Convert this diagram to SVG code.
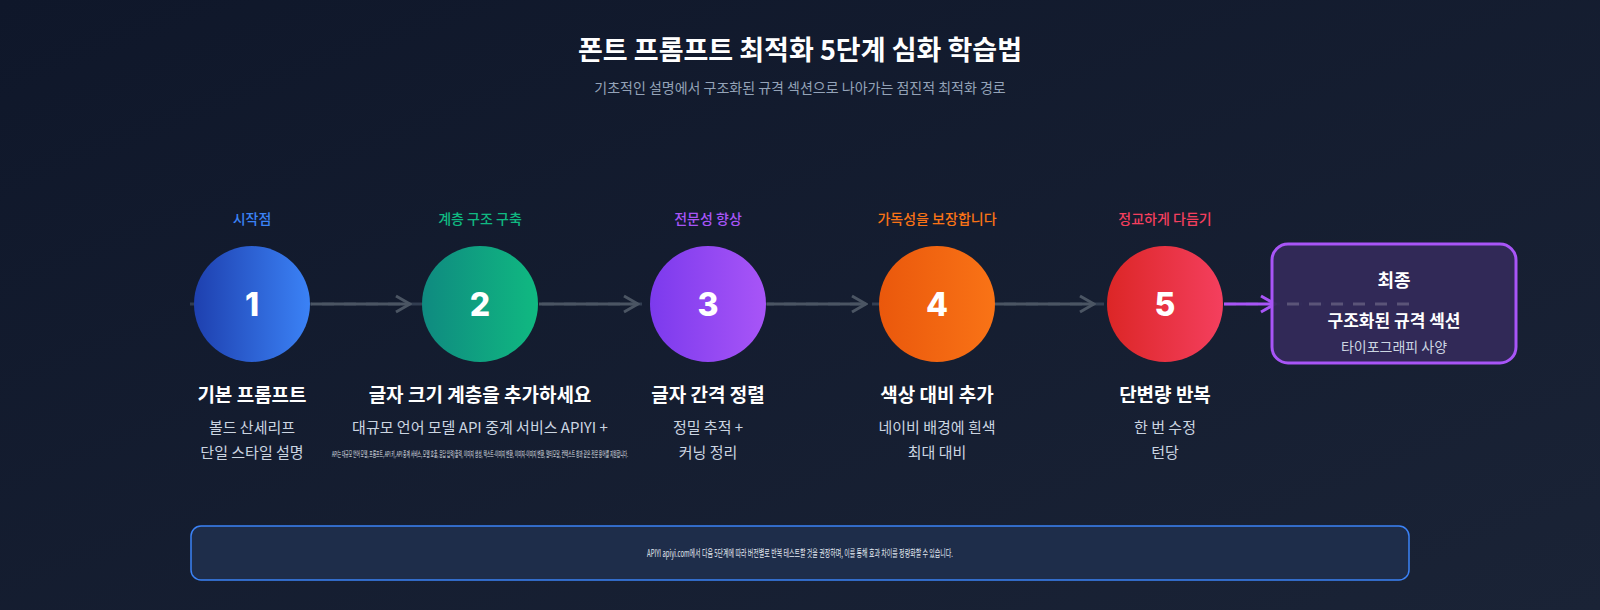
<svg xmlns="http://www.w3.org/2000/svg" width="1600" height="610" viewBox="0 0 1600 610">
<defs>
<linearGradient id="bg" x1="0" y1="0" x2="1" y2="1"><stop offset="0" stop-color="#0f172a"/><stop offset="1" stop-color="#1a2336"/></linearGradient>
<linearGradient id="g1" x1="0" x2="1"><stop offset="0" stop-color="#1e40af"/><stop offset="1" stop-color="#3b82f6"/></linearGradient>
<linearGradient id="g2" x1="0" x2="1"><stop offset="0" stop-color="#0f8a80"/><stop offset="1" stop-color="#10b981"/></linearGradient>
<linearGradient id="g3" x1="0" x2="1"><stop offset="0" stop-color="#7c3aed"/><stop offset="1" stop-color="#a855f7"/></linearGradient>
<linearGradient id="g4" x1="0" x2="1"><stop offset="0" stop-color="#ea580c"/><stop offset="1" stop-color="#f97316"/></linearGradient>
<linearGradient id="g5" x1="0" x2="1"><stop offset="0" stop-color="#dc2626"/><stop offset="1" stop-color="#f43f5e"/></linearGradient>
<marker id="ah" viewBox="0 0 20 20" refX="18" refY="10" markerWidth="20" markerHeight="20" markerUnits="userSpaceOnUse" orient="auto"><path d="M4 2 L18 10 L4 18" fill="none" stroke="#4b5563" stroke-width="3"/></marker>
<marker id="ahp" viewBox="0 0 20 20" refX="18" refY="10" markerWidth="20" markerHeight="20" markerUnits="userSpaceOnUse" orient="auto"><path d="M4 2 L18 10 L4 18" fill="none" stroke="#a855f7" stroke-width="3"/></marker>
</defs>
<style>
text{font-family:"Noto Sans CJK KR","Noto Sans",sans-serif;text-anchor:middle}
.t{font-size:27px;font-weight:700;fill:#fff}
.s{font-size:14px;fill:#94a3b8}
.lab{font-size:14px;font-weight:500}
.num{font-family:Inter,"Liberation Sans",sans-serif;font-size:32px;font-weight:800;fill:#fff}
.nm{font-size:19px;font-weight:700;fill:#fff}
.d{font-size:15px;fill:#cbd5e1}
.tiny{font-size:8px;fill:#e2e8f0}
.c{stroke:#4b5563;stroke-width:3;fill:none}
</style>
<rect width="1600" height="610" fill="url(#bg)"/>
<text class="t" x="800" y="60">폰트 프롬프트 최적화 5단계 심화 학습법</text>
<text class="s" x="800" y="93">기초적인 설명에서 구조화된 규격 섹션으로 나아가는 점진적 최적화 경로</text>
<g id="connectors">
<line x1="190" y1="304" x2="1345" y2="304" stroke="#475569" stroke-width="3" stroke-dasharray="12 10" opacity="0.6"/>
<line class="c" x1="311" y1="304" x2="410" y2="304" marker-end="url(#ah)"/>
<line class="c" x1="539" y1="304" x2="638" y2="304" marker-end="url(#ah)"/>
<line class="c" x1="767" y1="304" x2="866" y2="304" marker-end="url(#ah)"/>
<line class="c" x1="995" y1="304" x2="1094" y2="304" marker-end="url(#ah)"/>
<line x1="1224" y1="304" x2="1275" y2="304" stroke="#a855f7" stroke-width="3" marker-end="url(#ahp)"/>
</g>
<g id="step1">
<text class="lab" x="252" y="224" fill="#3b82f6">시작점</text>
<circle cx="252" cy="304" r="58" fill="url(#g1)"/>
<text class="num" x="252" y="316">1</text>
<text class="nm" x="252" y="402">기본 프롬프트</text>
<text class="d" x="252" y="433">볼드 산세리프</text>
<text class="d" x="252" y="458">단일 스타일 설명</text>
</g>
<g id="step2">
<text class="lab" x="480" y="224" fill="#10b981">계층 구조 구축</text>
<circle cx="480" cy="304" r="58" fill="url(#g2)"/>
<text class="num" x="480" y="316">2</text>
<text class="nm" x="480" y="402">글자 크기 계층을 추가하세요</text>
<text class="d" x="480" y="433">대규모 언어 모델 API 중계 서비스 APIYI +</text>
<text class="tiny" x="480" y="457" textLength="296" lengthAdjust="spacingAndGlyphs">API는 대규모 언어 모델, 프롬프트, API 키, API 중계 서비스, 모델 호출, 응답 입력/출력, 이미지 생성, 텍스트-이미지 변환, 이미지-이미지 변환, 멀티모달, 컨텍스트 창과 같은 전문 용어를 지원합니다.</text>
</g>
<g id="step3">
<text class="lab" x="708" y="224" fill="#a855f7">전문성 향상</text>
<circle cx="708" cy="304" r="58" fill="url(#g3)"/>
<text class="num" x="708" y="316">3</text>
<text class="nm" x="708" y="402">글자 간격 정렬</text>
<text class="d" x="708" y="433">정밀 추적 +</text>
<text class="d" x="708" y="458">커닝 정리</text>
</g>
<g id="step4">
<text class="lab" x="937" y="224" fill="#f97316">가독성을 보장합니다</text>
<circle cx="937" cy="304" r="58" fill="url(#g4)"/>
<text class="num" x="937" y="316">4</text>
<text class="nm" x="937" y="402">색상 대비 추가</text>
<text class="d" x="937" y="433">네이비 배경에 흰색</text>
<text class="d" x="937" y="458">최대 대비</text>
</g>
<g id="step5">
<text class="lab" x="1165" y="224" fill="#f43f5e">정교하게 다듬기</text>
<circle cx="1165" cy="304" r="58" fill="url(#g5)"/>
<text class="num" x="1165" y="316">5</text>
<text class="nm" x="1165" y="402">단변량 반복</text>
<text class="d" x="1165" y="433">한 번 수정</text>
<text class="d" x="1165" y="458">턴당</text>
</g>
<g id="final">
<rect x="1272" y="244" width="244" height="119" rx="16" fill="#332a5a" fill-opacity="0.95" stroke="#a855f7" stroke-width="3"/>
<line x1="1287" y1="304" x2="1410" y2="304" stroke="#5b5478" stroke-width="3" stroke-dasharray="12 10"/>
<text x="1394" y="287" font-size="18" font-weight="700" fill="#fff">최종</text>
<text x="1394" y="327" font-size="17" font-weight="700" fill="#fff">구조화된 규격 섹션</text>
<text x="1394" y="352" font-size="14" fill="#cbd5e1">타이포그래피 사양</text>
</g>
<g id="banner">
<rect x="191" y="526" width="1218" height="54" rx="10" fill="#1e2d4a" stroke="#3b82f6" stroke-width="1.5"/>
<text x="800" y="557" font-size="10" fill="#e2e8f0" textLength="306" lengthAdjust="spacingAndGlyphs">APIYI apiyi.com에서 다음 5단계에 따라 버전별로 반복 테스트할 것을 권장하며, 이를 통해 효과 차이를 정량화할 수 있습니다.</text>
</g>
</svg>
